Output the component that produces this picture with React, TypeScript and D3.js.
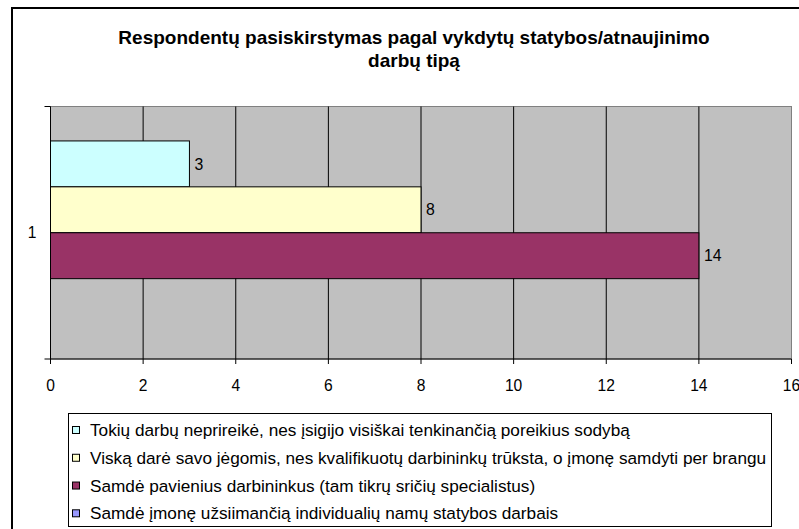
import React from "react";
import * as d3 from "d3";

const categories = ["1"];
const seriesNames = [
  "Tokių darbų neprireikė, nes įsigijo visiškai tenkinančią poreikius sodybą",
  "Viską darė savo jėgomis, nes kvalifikuotų darbininkų trūksta, o įmonę samdyti per brangu",
  "Samdė pavienius darbininkus (tam tikrų sričių specialistus)",
  "Samdė įmonę užsiimančią individualių namų statybos darbais",
];
const seriesValues = [3, 8, 14, 0];
const seriesColors = ["#CCFFFF", "#FFFFCC", "#993366", "#9999FF"];
const xTicks = [0, 2, 4, 6, 8, 10, 12, 14, 16];
const titleLines = [
  "Respondentų pasiskirstymas pagal vykdytų statybos/atnaujinimo",
  "darbų tipą",
];

const W = 799;
const H = 529;
const FONT = "'Liberation Sans', Arial, sans-serif";

export default function App() {
  const left = 50.5, right = 791.5, top = 106.5, bottom = 359;
  const x = d3.scaleLinear().domain([0, 16]).range([left, right]);
  const yCat = d3.scaleBand<string>().domain(categories).range([top, bottom]).paddingInner(0).paddingOuter(0.1875);
  const ySer = d3.scaleBand<string>().domain(seriesNames).range([0, yCat.bandwidth()]).padding(0);

  const legX = 68.5, legY = 413.5, legW = 703, legH = 113;
  const legendRow = d3.scaleLinear().domain([0, 3]).range([430, 513.3]);

  return (
    <svg width={W} height={H} style={{ position: "absolute", left: 0, top: 0 }} fontFamily={FONT}>
      <rect x={0} y={0} width={W} height={H} fill="#fff" />
      <rect x={12} y={8} width={W + 10} height={H + 10} fill="#fff" stroke="#000" strokeWidth={2} />
      {titleLines.map((t, i) => (
        <text key={i} x={414} y={43.5 + i * 23} textAnchor="middle" fontWeight="bold" fontSize={19} fill="#000">
          {t}
        </text>
      ))}
      {/* plot area */}
      <rect x={left} y={top} width={right - left} height={bottom - top} fill="#C0C0C0" stroke="#808080" strokeWidth={1} />
      {xTicks.slice(1, -1).map((t) => (
        <line key={t} x1={x(t)} x2={x(t)} y1={top} y2={bottom} stroke="#000" strokeWidth={1} />
      ))}
      {categories.map((c) =>
        seriesNames.map((s, i) => {
          const v = seriesValues[i];
          const y0 = (yCat(c) ?? 0) + (ySer(s) ?? 0);
          const h = ySer.bandwidth();
          if (v <= 0) return null;
          return (
            <g key={c + s}>
              <rect x={x(0)} y={y0} width={x(v) - x(0)} height={h} fill={seriesColors[i]} stroke="#000" strokeWidth={1} />
              <text x={x(v) + 5} y={y0 + h / 2} dy="0.36em" fontSize={15.8} fill="#000">
                {v}
              </text>
            </g>
          );
        })
      )}
      {/* axes */}
      <line x1={left} x2={left} y1={top} y2={bottom + 5} stroke="#000" />
      <line x1={left - 6} x2={right} y1={bottom} y2={bottom} stroke="#000" />
      <line x1={left - 6} x2={left} y1={top} y2={top} stroke="#000" />
      {xTicks.map((t) => (
        <g key={t}>
          <line x1={x(t)} x2={x(t)} y1={bottom} y2={bottom + 5} stroke="#000" />
          <text x={x(t)} y={385} dy="0.36em" textAnchor="middle" fontSize={15.6} fill="#000">
            {t}
          </text>
        </g>
      ))}
      {categories.map((c) => (
        <text key={c} x={32} y={(yCat(c) ?? 0) + yCat.bandwidth() / 2} dy="0.36em" textAnchor="middle" fontSize={15.6} fill="#000">
          {c}
        </text>
      ))}
      {/* legend */}
      <rect x={legX} y={legY} width={legW} height={legH} fill="#fff" stroke="#000" strokeWidth={1} />
      {seriesNames.map((s, i) => (
        <g key={s}>
          <rect x={72.5} y={legendRow(i) - 3.5} width={7} height={7} fill={seriesColors[i]} stroke="#000" strokeWidth={1} />
          <text x={90} y={legendRow(i)} dy="0.36em" fontSize={17.2} fill="#000">
            {s}
          </text>
        </g>
      ))}
    </svg>
  );
}
